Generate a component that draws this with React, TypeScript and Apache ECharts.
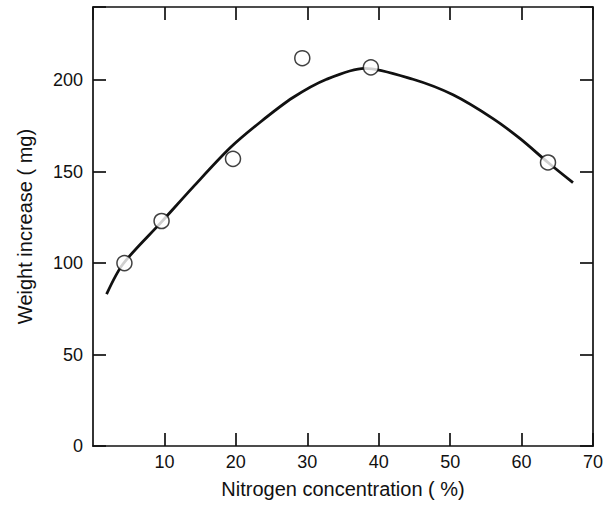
import React, { useEffect, useRef } from "react";
import * as echarts from "echarts";

const xTickLabels = ["10", "20", "30", "40", "50", "60", "70"];
const yTickLabels = ["0", "50", "100", "150", "200"];

const obsX = [4.4, 9.6, 19.6, 29.3, 38.9, 63.7];
const obsY = [100, 123, 157, 212, 207, 155];

const fitX = [1.9, 4.2, 9.6, 14.0, 19.2, 23.4, 28.0, 32.7, 38.0, 44.8, 50.4, 56.0, 59.8, 63.7, 67.2];
const fitY = [83, 99.5, 122.5, 141.5, 163, 177, 190.5, 200.5, 206.5, 200.5, 192, 179, 168, 155, 144];

const xTitle = "Nitrogen concentration ( %)";
const yTitle = "Weight increase ( mg)";

export default function App() {
  const ref = useRef<HTMLDivElement>(null);
  useEffect(() => {
    document.body.style.margin = "0";
    const chart = echarts.init(ref.current!, undefined, { renderer: "svg" });
    const font = "Liberation Sans, Arial, sans-serif";
    const lineStyle = { color: "#111", width: 1.7 };
    const xBase = {
      type: "value" as const,
      min: 0,
      max: 70,
      interval: 10,
      axisLine: { show: true, onZero: false, lineStyle },
      axisTick: { show: true, inside: true, length: 13, lineStyle },
      splitLine: { show: false },
    };
    const yBase = {
      type: "value" as const,
      min: 0,
      max: 240,
      interval: 50,
      axisLine: { show: true, onZero: false, lineStyle },
      axisTick: { show: true, inside: true, length: 13, lineStyle },
      splitLine: { show: false },
    };
    chart.setOption({
      animation: false,
      backgroundColor: "#fff",
      grid: { left: 93, right: 22, top: 7, bottom: 62 },
      xAxis: [
        {
          ...xBase,
          position: "bottom",
          name: xTitle,
          nameLocation: "middle",
          nameGap: 33,
          nameTextStyle: { fontFamily: font, fontSize: 20, color: "#111" },
          axisLabel: {
            fontFamily: font,
            fontSize: 18,
            color: "#111",
            margin: 7,
            showMinLabel: false,
            formatter: (v: number) => (xTickLabels.includes(String(v)) ? String(v) : ""),
          },
        },
        { ...xBase, position: "top", axisLabel: { show: false } },
      ],
      yAxis: [
        {
          ...yBase,
          position: "left",
          name: yTitle,
          nameLocation: "middle",
          nameGap: 58,
          nameTextStyle: { fontFamily: font, fontSize: 20, color: "#111" },
          axisLabel: {
            fontFamily: font,
            fontSize: 18,
            color: "#111",
            margin: 10,
            formatter: (v: number) => (yTickLabels.includes(String(v)) ? String(v) : ""),
          },
        },
        { ...yBase, position: "right", axisLabel: { show: false } },
      ],
      series: [
        {
          type: "line",
          data: fitX.map((x, i) => [x, fitY[i]]),
          smooth: 0.3,
          showSymbol: false,
          lineStyle: { color: "#111", width: 2.8 },
          z: 2,
        },
        {
          type: "scatter",
          data: obsX.map((x, i) => [x, obsY[i]]),
          symbol: "circle",
          symbolSize: 15,
          itemStyle: { color: "#fff", borderColor: "#111", borderWidth: 1.5 },
          z: 3,
        },
      ],
    });
    return () => chart.dispose();
  }, []);
  return <div ref={ref} style={{ width: 615, height: 508 }} />;
}
